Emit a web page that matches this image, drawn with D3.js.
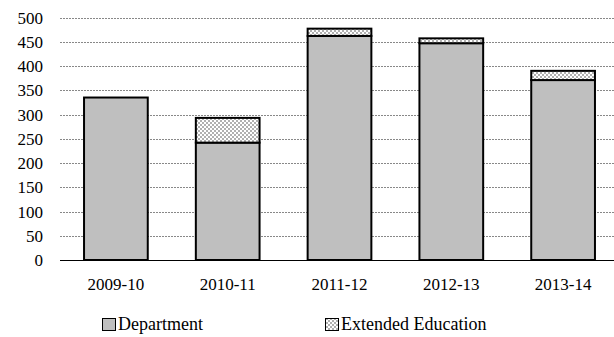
<!DOCTYPE html>
<html><head><meta charset="utf-8">
<script src="https://cdn.jsdelivr.net/npm/d3@7"></script>
<style>body{margin:0;background:#fff}svg{display:block}
svg text{font-family:"Liberation Serif",Tinos,"DejaVu Serif","Noto Serif",Times,serif !important}</style>
</head><body><svg id="c" width="614" height="337"></svg>
<script>
const categories = ["2009-10","2010-11","2011-12","2012-13","2013-14"];
const department = [335, 242, 462, 447, 371];
const extended = [0, 51, 15, 10, 19];
const yTicks = [0,50,100,150,200,250,300,350,400,450,500];
const seriesNames = ["Department","Extended Education"];

const svg = d3.select("#c");
const defs = svg.append("defs");
const pat = defs.append("pattern").attr("id","chk").attr("patternUnits","userSpaceOnUse").attr("width",4).attr("height",4);
pat.append("rect").attr("width",4).attr("height",4).attr("fill","#fff");
pat.append("rect").attr("width",2).attr("height",2).attr("fill","#b0b0b0");
pat.append("rect").attr("x",2).attr("y",2).attr("width",2).attr("height",2).attr("fill","#b0b0b0");

const x = d3.scaleBand().domain(categories).range([60,619]).paddingInner(0.43).paddingOuter(0.215);
const y = d3.scaleLinear().domain([0,500]).range([260,17.5]);

// grid
svg.append("g").selectAll("line").data(yTicks.filter(d=>d>0)).join("line")
  .attr("x1",60).attr("x2",614).attr("y1",d=>Math.round(y(d))+0.5).attr("y2",d=>Math.round(y(d))+0.5)
  .attr("stroke","#888").attr("stroke-width",1).attr("stroke-dasharray","2,1");
svg.append("line").attr("x1",60).attr("x2",614).attr("y1",260.5).attr("y2",260.5).attr("stroke","#000");

// y labels
svg.append("g").selectAll("text").data(yTicks).join("text")
  .attr("x",43).attr("y",d=>y(d)+6).attr("text-anchor","end")
  .style("font-size","17px").text(d=>d);

// bars
const bw = x.bandwidth();
const g = svg.append("g");
categories.forEach((c,i)=>{
  g.append("rect").attr("x",x(c)).attr("y",y(department[i])).attr("width",bw).attr("height",y(0)-y(department[i]))
    .attr("fill","#bfbfbf").attr("stroke","#000").attr("stroke-width",2);
  if (extended[i]>0) {
    const top = department[i]+extended[i];
    g.append("rect").attr("x",x(c)).attr("y",y(top)).attr("width",bw).attr("height",y(department[i])-y(top))
      .attr("fill","url(#chk)").attr("stroke","#000").attr("stroke-width",2);
  }
});

// x labels
svg.append("g").selectAll("text").data(categories).join("text")
  .attr("x",d=>x(d)+bw/2).attr("y",290).attr("text-anchor","middle")
  .style("font-size","17px").text(d=>d);

// legend
const legX = [102, 325];
const leg = svg.append("g");
seriesNames.forEach((n,i)=>{
  leg.append("rect").attr("x",legX[i]+0.5).attr("y",318.5).attr("width",13).attr("height",12)
    .attr("fill", i===0 ? "#bfbfbf" : "url(#chk)").attr("stroke","#000").attr("stroke-width",1);
  leg.append("text").attr("x",legX[i]+16).attr("y",330)
    .style("font-size","18px").text(n);
});
</script></body></html>
